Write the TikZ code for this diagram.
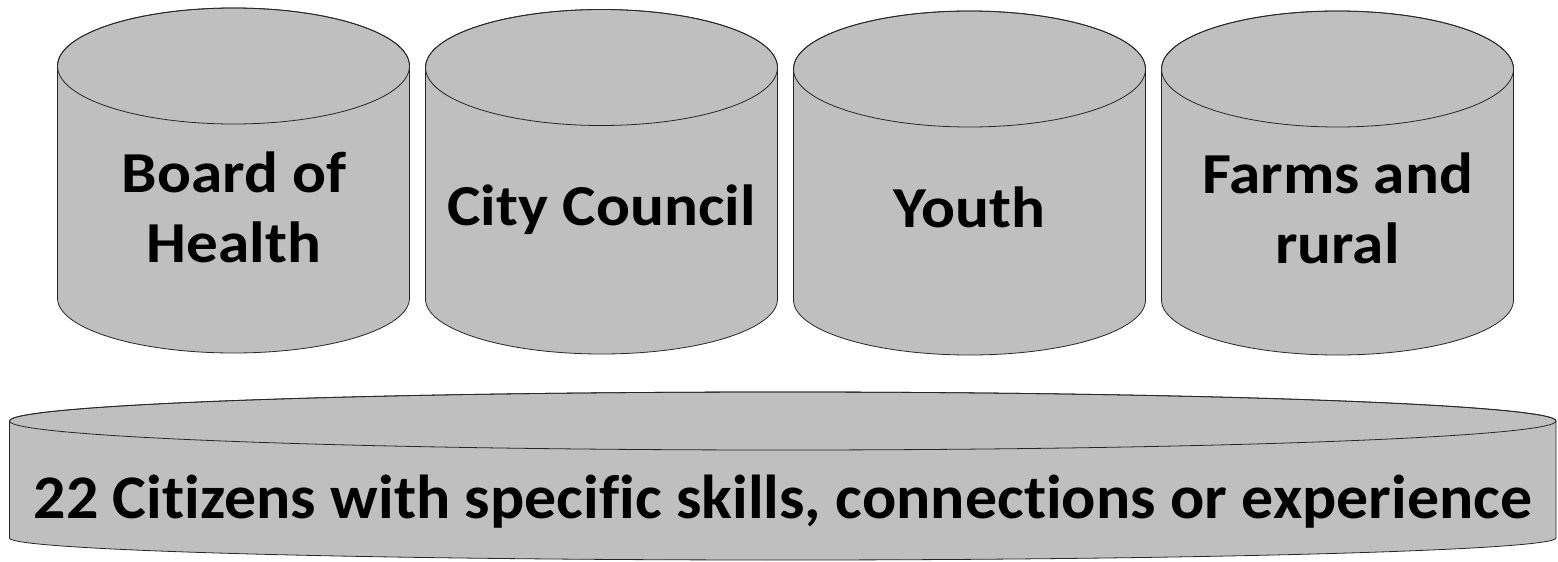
\documentclass[tikz,border=0pt]{standalone}
\usepackage{fontspec}
\setmainfont{Carlito}[Ligatures=NoCommon]
\newfontfamily\topfont[FakeStretch=1.09,Ligatures=NoCommon]{Carlito}
\newfontfamily\basefont[FakeStretch=1.03,Ligatures=NoCommon]{Carlito}
\begin{document}
\begin{tikzpicture}[x=1pt,y=-1pt,
  cylbody/.style={fill=cylgray, draw=black!85, line width=0.8pt},
  toplabel/.style={font=\topfont\bfseries\fontsize{58}{70}\selectfont, align=center, anchor=base, inner sep=0pt},
  baselabel/.style={font=\basefont\bfseries\fontsize{62}{74}\selectfont, anchor=base, inner sep=0pt}]
\definecolor{cylgray}{RGB}{191,191,191}
\useasboundingbox (0,0) rectangle (1558,562);
% #1 left, #2 right, #3 top ellipse centre y, #4 bottom ellipse centre y, #5 top ry, #6 bottom ry
\newcommand\mycyl[6]{%
  \pgfmathsetmacro\rx{(#2-#1)/2}%
  \pgfmathsetmacro\cx{(#2+#1)/2}%
  \filldraw[cylbody] (#1,#3) -- (#1,#4)
    arc[start angle=180, end angle=0, x radius=\rx, y radius=#6]
    -- (#2,#3)
    arc[start angle=0, end angle=-180, x radius=\rx, y radius=#5] -- cycle;
  \draw[cylbody, fill=none] (\cx,#3) ellipse[x radius=\rx, y radius=#5];
}
\mycyl{57.5}{409.5}{66}{298}{58}{55}
\mycyl{425.5}{777.5}{67.5}{299}{58}{55}
\mycyl{793.5}{1145.5}{69}{300}{58}{55}
\mycyl{1161.5}{1513.5}{69}{300}{58}{55}
\mycyl{9.5}{1556}{421}{538}{29}{22}
\node[toplabel] (boh) at (234,262) {Board of\\Health};
\node[toplabel] (cc) at (601.5,225) {City Council};
\node[toplabel] (youth) at (969.5,227) {Youth};
\node[toplabel] (farms) at (1337.5,263) {Farms and\\rural};
\node[baselabel] (cit) at (783,518) {22 Citizens with specific skills, connections or experience};
\end{tikzpicture}
\end{document}
